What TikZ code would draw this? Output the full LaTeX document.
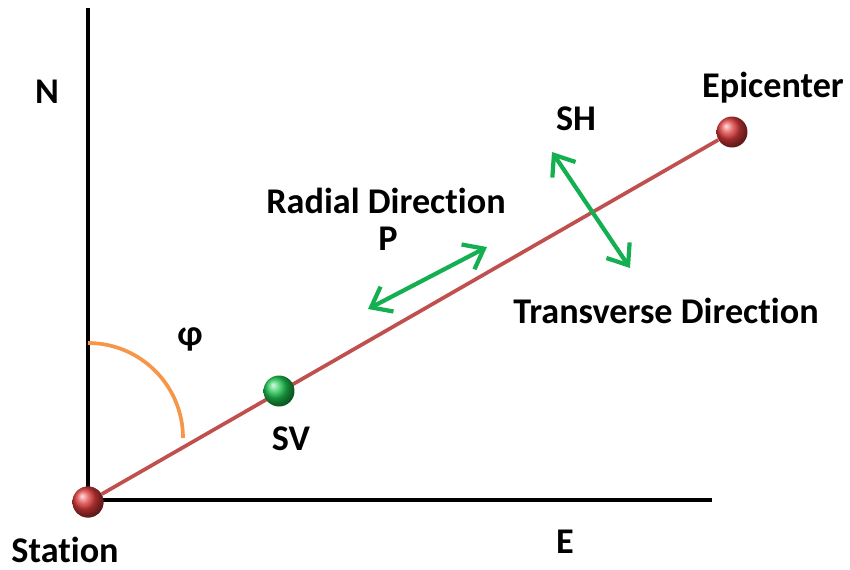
\documentclass[tikz,border=0pt]{standalone}
\usepackage{fontspec}
\setmainfont[Ligatures=NoCommon]{Carlito}
\usetikzlibrary{positioning, arrows.meta}
\definecolor{rayred}{RGB}{192,80,77}
\definecolor{wavegreen}{RGB}{20,175,80}
\definecolor{arcorange}{RGB}{247,150,70}
\definecolor{ballred}{RGB}{225,60,60}
\definecolor{ballgreen}{RGB}{30,200,80}
\tikzset{
    axis/.style={line width=2.3pt, draw=black}, % the N and E axes
    ray/.style={line width=2.1pt, draw=rayred},
    wave/.style={{Straight Barb[length=3.6mm, width=5.6mm]}-{Straight Barb[length=3.6mm, width=5.6mm]}, line width=2.4pt, draw=wavegreen},
    ball/.style={circle, minimum size=0.62cm, inner sep=0pt, shading=ball},
    lbl/.style={anchor=base, font=\bfseries\fontsize{20.6}{22}\selectfont}
}

\begin{document}
\begin{tikzpicture}[x=0.02cm, y=-0.02cm]
        \useasboundingbox (0,0) rectangle (850,569);

        \coordinate (ntip) at (88,8);
        \coordinate (etip) at (712,500);
        \coordinate (origin) at (88,500);

        \draw[axis] (ntip) -- (origin) -- (etip);

        \coordinate (phis) at (88,343);
        \draw[arcorange, line width=2.1pt] (phis) arc[start angle=90, end angle=0, radius=95*0.02cm];

        \node[ball, ball color=ballred] (station) at (88,502) {};
        \node[ball, ball color=ballred] (epicenter) at (732,132) {};
        \draw[ray] (station) -- (epicenter);
        \node[ball, ball color=ballgreen] (sv) at (279,391) {};
        \node[ball, ball color=ballred] at (station) {};

        \coordinate (pa) at (368,309);
        \coordinate (pb) at (487,247);
        \draw[wave] (pa) -- (pb);

        \coordinate (sha) at (552,152);
        \coordinate (shb) at (630,268);
        \draw[wave] (sha) -- (shb);

        \node[lbl] (nlbl) at (47,103) {N};
        \node[lbl] (elbl) at (565,553) {E};
        \node[lbl] (stationlbl) at (65,562) {Station};
        \node[lbl] (epicenterlbl) at (773,97) {Epicenter};
        \node[lbl] (svlbl) at (291,450) {SV};
        \node[lbl] (shlbl) at (576,130) {SH};
        \node[lbl] (plbl) at (388,250) {P};
        \node[lbl] (radial) at (386,213) {Radial Direction};
        \node[lbl] (transverse) at (666,323) {Transverse Direction};
        \node[lbl] (phi) at (190,345) {φ};
    \end{tikzpicture}
\end{document}
